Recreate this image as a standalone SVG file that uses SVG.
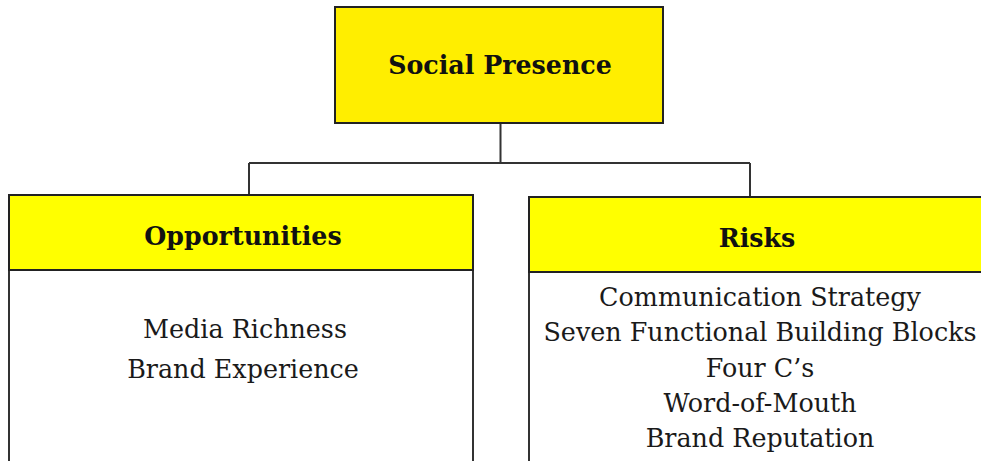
<svg xmlns="http://www.w3.org/2000/svg" width="981" height="461" viewBox="0 0 981 461">
<style>
.box{fill:#fff;stroke:#333;stroke-width:2}
.hdr{fill:#ffff00;stroke:#222;stroke-width:2}
.top{fill:#ffee00;stroke:#222;stroke-width:2}
.h{font-family:"DejaVu Serif","Liberation Serif",serif;font-weight:bold;font-size:25.3px;fill:#111;text-anchor:middle}
.t{font-family:"DejaVu Serif","Liberation Serif",serif;font-size:25.4px;fill:#1a1a1a;text-anchor:middle}
.conn{fill:none;stroke:#333;stroke-width:2}
</style>
<rect width="981" height="461" fill="#fff"/>
<g id="connectors">
<path class="conn" d="M500.5 123 V163 M249 163 H750 M249 163 V195 M750 163 V197"/>
</g>
<g id="social-presence">
<rect class="top" x="335" y="7" width="328" height="116"/>
<text class="h" x="500" y="74">Social Presence</text>
</g>
<g id="opportunities">
<rect class="box" x="9" y="195" width="464" height="270"/>
<rect class="hdr" x="9" y="195" width="464" height="75"/>
<text class="h" x="243" y="245">Opportunities</text>
<text class="t" x="245" y="338">Media Richness</text>
<text class="t" x="243" y="378">Brand Experience</text>
</g>
<g id="risks">
<rect class="box" x="529" y="197" width="470" height="270"/>
<rect class="hdr" x="529" y="197" width="470" height="75"/>
<text class="h" x="757" y="247">Risks</text>
<text class="t" x="760" y="306">Communication Strategy</text>
<text class="t" x="760" y="341">Seven Functional Building Blocks</text>
<text class="t" x="760" y="377">Four C’s</text>
<text class="t" x="760" y="412">Word-of-Mouth</text>
<text class="t" x="760" y="447">Brand Reputation</text>
</g>
</svg>
